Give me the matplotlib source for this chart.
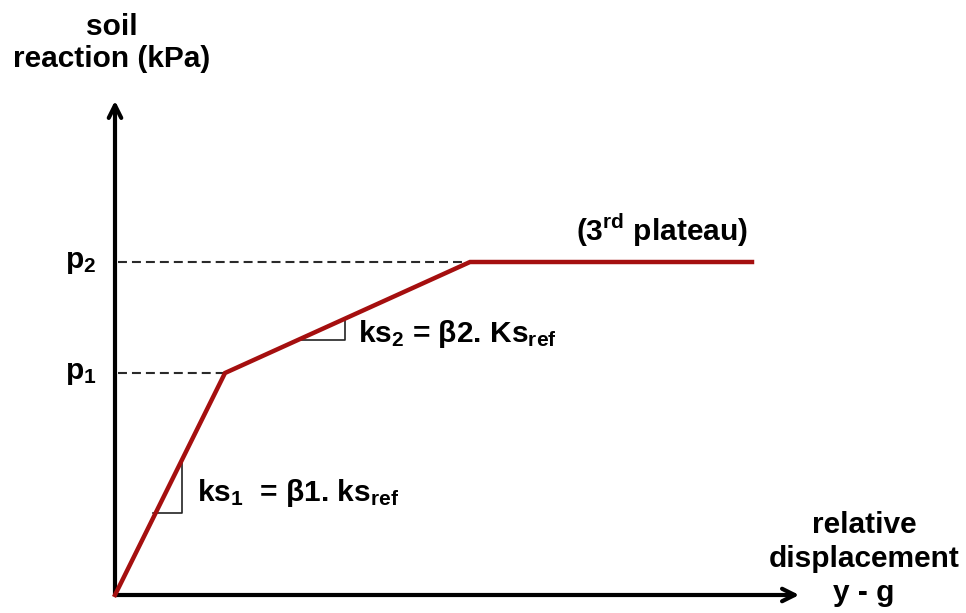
import matplotlib.pyplot as plt

# p-y curve (relative displacement vs soil reaction), arbitrary units
disp = [0, 110, 355, 637]
react = [0, 222, 333, 333]
p_levels = [222, 333]
p_labels = ['$\\mathbf{p_1}$', '$\\mathbf{p_2}$']
p_disp = [110, 355]

plt.rcParams['font.family'] = ['Liberation Sans', 'DejaVu Sans']
plt.rcParams['mathtext.fontset'] = 'custom'
plt.rcParams['mathtext.bf'] = 'Liberation Sans:bold'
plt.rcParams['mathtext.rm'] = 'Liberation Sans'

fig = plt.figure(figsize=(9.66, 6.13), dpi=100)
ax = fig.add_axes([0, 0, 1, 1])
ax.set_xlim(-115, 851)
ax.set_ylim(-18, 595)
ax.axis('off')

red = '#a50f0f'
# axes with arrows
ax.annotate('', xy=(0, 497), xytext=(0, -2),
            arrowprops=dict(arrowstyle='->,head_length=0.9,head_width=0.45', lw=3, color='black'))
ax.annotate('', xy=(687, 0), xytext=(-2, 0),
            arrowprops=dict(arrowstyle='->,head_length=0.9,head_width=0.45', lw=3, color='black'))

# dashed guide lines
for p, d in zip(p_levels, p_disp):
    ax.plot([3, d], [p, p], ls=(0, (4.3, 2.4)), color='#2a2a2a', lw=1.5)

ax.plot(disp, react, color=red, lw=3.2, solid_joinstyle='miter', zorder=3)

# slope triangles
ax.plot([67, 67, 38], [137, 82, 82], color='#222222', lw=1.2)
ax.plot([230, 230, 182], [275, 255, 255], color='#222222', lw=1.2)

fs = 21.5
for p, lab in zip(p_levels, p_labels):
    ax.text(-34, p, lab, fontsize=fs, fontweight='bold', ha='center', va='center')

ax.text(-3, 552, 'soil\nreaction (kPa)', fontsize=fs, fontweight='bold',
        ha='center', va='center', linespacing=1.19)
ax.text(749, 36, 'relative\ndisplacement\ny - g', fontsize=fs, fontweight='bold',
        ha='center', va='center', linespacing=1.26)
ax.text(547, 365, '(3$^{\\mathbf{rd}}$ plateau)', fontsize=fs, fontweight='bold',
        ha='center', va='center')
ax.text(82, 102, '$\\mathbf{ks_1}$  = β1. $\\mathbf{ks_{ref}}$', fontsize=fs, fontweight='bold',
        ha='left', va='center')
ax.text(243, 261, '$\\mathbf{ks_2}$ = β2. $\\mathbf{Ks_{ref}}$', fontsize=fs, fontweight='bold',
        ha='left', va='center')

fig.savefig('out.png', dpi=100)
